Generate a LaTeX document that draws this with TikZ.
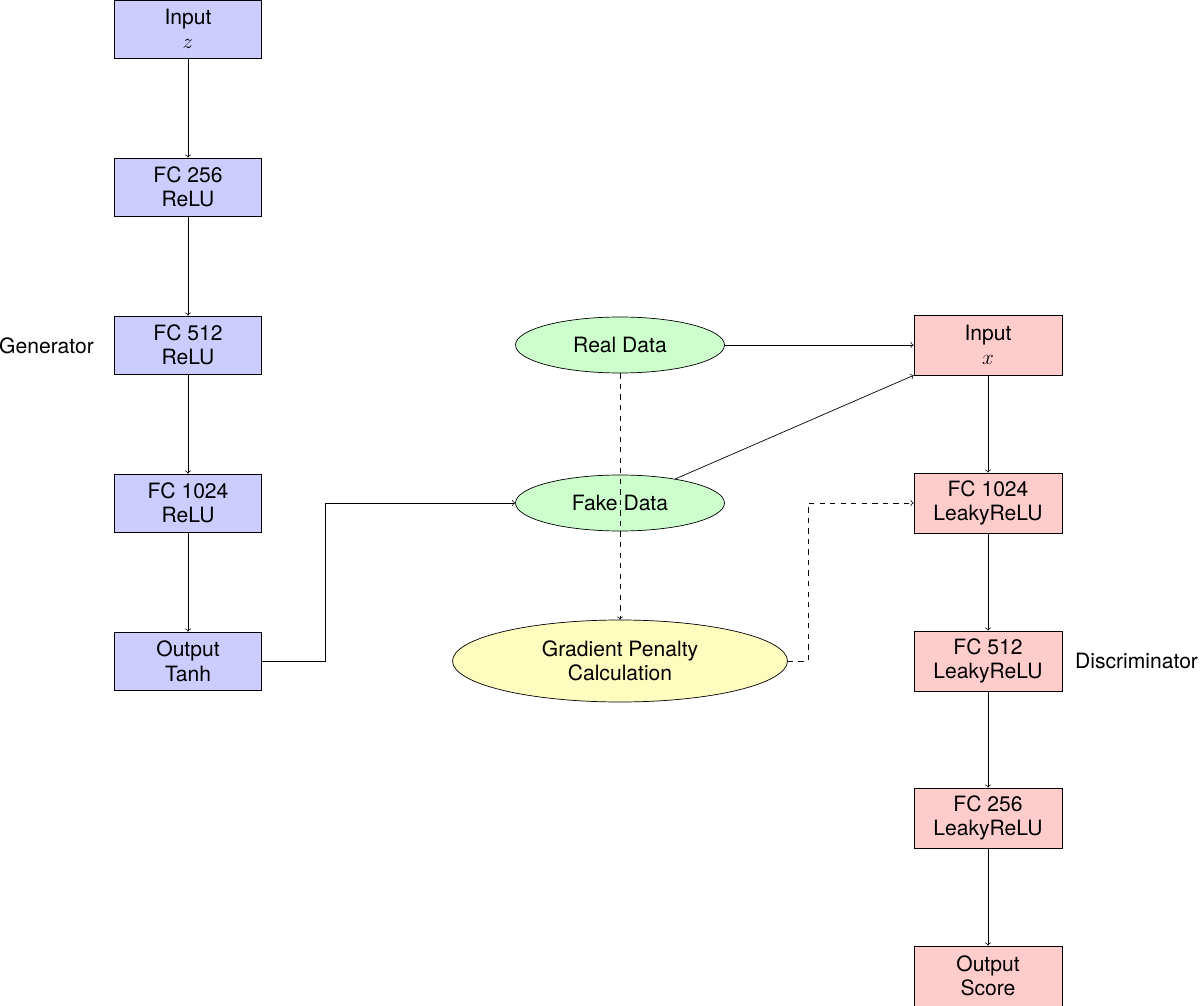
\documentclass[tikz,border=0pt]{standalone}
\usepackage{fontspec}
\setmainfont{TeX Gyre Heros}
\usetikzlibrary{shapes.geometric}
\begin{document}
\begin{tikzpicture}[x=0.02cm,y=-0.02cm,font=\large,
 gbox/.style={draw,fill=blue!20,minimum width=2.94cm,minimum height=1.16cm,inner sep=0pt,align=center},
 dbox/.style={draw,fill=red!20,minimum width=2.96cm,minimum height=1.2cm,inner sep=0pt,align=center},
 dat/.style={draw,ellipse,fill=green!20,minimum width=4.18cm,minimum height=1.12cm,inner sep=0pt},
 arr/.style={->}]
\useasboundingbox (0,0) rectangle (1200,1006);
\node[gbox] (g0) at (188,29) {Input\\ $z$};
\node[gbox] (g1) at (188,187) {FC 256\\ ReLU};
\node[gbox] (g2) at (188,345) {FC 512\\ ReLU};
\node[gbox] (g3) at (188,503) {FC 1024\\ ReLU};
\node[gbox] (g4) at (188,661) {Output\\ Tanh};
\node[anchor=east] (gl) at (100,346) {Generator};
\node[dbox] (d0) at (988,345) {Input\\ $x$};
\node[dbox] (d1) at (988,503) {FC 1024\\ LeakyReLU};
\node[dbox] (d2) at (988,661) {FC 512\\ LeakyReLU};
\node[dbox] (d3) at (988,818) {FC 256\\ LeakyReLU};
\node[dbox] (d4) at (988,976) {Output\\ Score};
\node[anchor=west] (dl) at (1069,661) {Discriminator};
\node[dat] (real) at (620,345) {Real Data};
\node[dat] (fake) at (620,503) {Fake Data};
\node[draw,ellipse,fill=yellow!25,minimum width=6.7cm,minimum height=1.64cm,inner sep=0pt,align=center] (gp) at (620,661) {Gradient Penalty\\ Calculation};
\coordinate (c1) at (325,661);
\coordinate (c2) at (808,661);
\foreach \a/\b in {g0/g1,g1/g2,g2/g3,g3/g4,d0/d1,d1/d2,d2/d3,d3/d4} \draw[arr] (\a) -- (\b);
\draw[arr] (g4.east) -- (c1) |- (fake.west);
\draw[arr] (real) -- (d0);
\draw[arr] (fake) -- (d0.south west);
\draw[arr,dashed] (real.south) -- (gp.north);
\draw[arr,dashed] (gp.east) -- (c2) |- (d1.west);
\end{tikzpicture}
\end{document}
